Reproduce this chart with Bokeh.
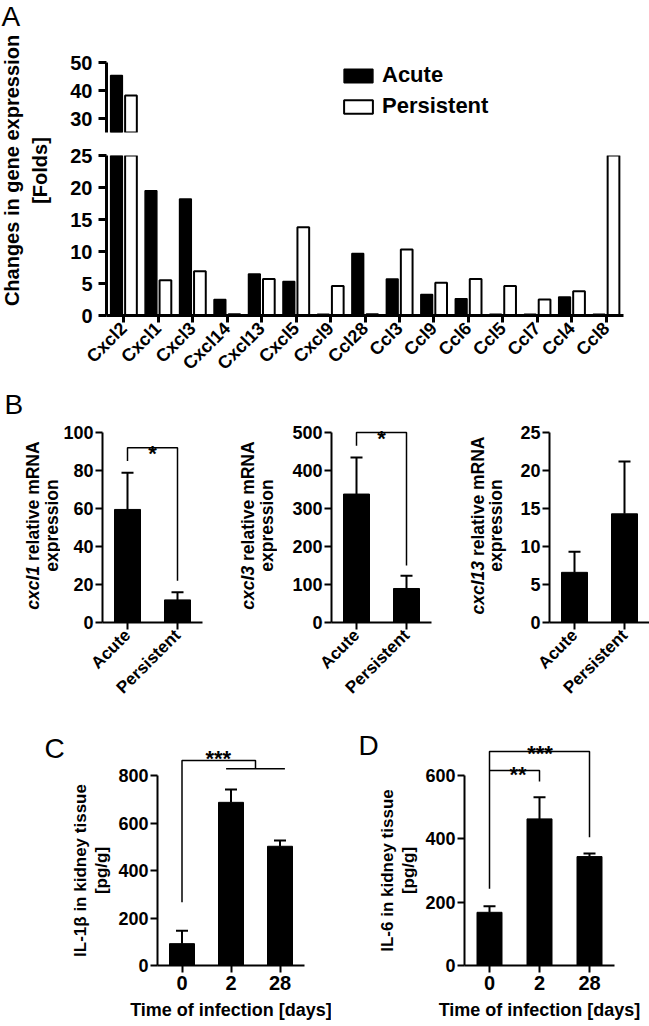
import math
from bokeh.plotting import figure
from bokeh.models import (FactorRange, Range1d, FixedTicker, Label, Whisker, TeeHead,
                          ColumnDataSource, Legend, LegendItem)
from bokeh.layouts import row, column
from bokeh.transform import dodge
from bokeh.embed import file_html
from bokeh.resources import INLINE

FONT = "Liberation Sans"

# ---------------- data ----------------
genes = ["Cxcl2", "Cxcl1", "Cxcl3", "Cxcl14", "Cxcl13", "Cxcl5", "Cxcl9", "Ccl28",
         "Ccl3", "Ccl9", "Ccl6", "Ccl5", "Ccl7", "Ccl4", "Ccl8"]
acute_folds = [45.4, 19.5, 18.2, 2.5, 6.5, 5.3, 0.2, 9.7, 5.7, 3.3, 2.6, 0.2, 0.2, 2.9, 0.2]
persistent_folds = [38.2, 5.5, 6.9, 0.2, 5.7, 13.8, 4.6, 0.2, 10.3, 5.1, 5.7, 4.6, 2.5, 3.8, 25.0]
a_lower_ticks = [0, 5, 10, 15, 20, 25]
a_upper_ticks = [30, 40, 50]
a_break = 25

groups_b = ["Acute", "Persistent"]
cxcl1_mean = [59.5, 11.9]
cxcl1_sem = [19.3, 4.0]
cxcl3_mean = [338.0, 89.5]
cxcl3_sem = [96.0, 33.5]
cxcl13_mean = [6.6, 14.3]
cxcl13_sem = [2.7, 6.9]

days = ["0", "2", "28"]
il1b_mean = [92.0, 687.0, 502.0]
il1b_sem = [54.0, 54.0, 24.0]
il6_mean = [168.0, 463.0, 344.0]
il6_sem = [19.0, 68.0, 10.0]

# significance brackets (data units; x as category positions)
b1_bracket_x = ["Acute", "Acute", "Persistent", "Persistent"]
b1_bracket_y = [85, 92, 92, 22]
b2_bracket_x = ["Acute", "Acute", "Persistent", "Persistent"]
b2_bracket_y = [465, 500, 500, 150]
c_bracket1_x = [0.5, 0.5, 2.0, 2.0]
c_bracket1_y = [266, 863, 863, 828]
c_bracket2_x = [1.4, 2.6]
c_bracket2_y = [828, 828]
d_bracket1_x = [0.5, 0.5, 2.5, 2.5]
d_bracket1_y = [242, 676, 676, 405]
d_bracket2_x = [0.5, 1.5, 1.5]
d_bracket2_y = [616, 616, 581]

# Arial/Liberation Sans Bold advance widths (per 1000 em)
W = {' ': 278, 'a': 556, 'c': 556, 'd': 611, 'e': 556, 'g': 611, 'i': 278, 'k': 556, 'l': 278,
     'm': 889, 'n': 611, 'o': 611, 'p': 611, 'r': 389, 's': 556, 't': 333, 'u': 611, 'v': 556,
     'x': 556, 'y': 556, 'A': 722, 'N': 722, 'R': 722, '1': 556, '3': 556}


def tw(s, fs):
    return sum(W.get(ch, 556) for ch in s) / 1000.0 * fs


def base_fig(xr, yr, fw, fh, bl, br, bt, bb, **kw):
    p = figure(x_range=xr, y_range=yr, frame_width=fw, frame_height=fh,
               min_border_left=bl, min_border_right=br, min_border_top=bt, min_border_bottom=bb,
               toolbar_location=None, output_backend="svg", **kw)
    p.outline_line_color = None
    p.background_fill_color = "white"
    p.border_fill_color = "white"
    for g in p.grid:
        g.visible = False
    return p


def text_fig(w, h):
    return base_fig(Range1d(0, w), Range1d(0, h), w, h, 0, 0, 0, 0,
                    x_axis_location=None, y_axis_location=None)


def style_axis(ax, lw, fs, tick_out=7, standoff=2):
    ax.axis_line_width = lw
    ax.axis_line_color = "black"
    ax.major_tick_line_width = lw
    ax.major_tick_line_color = "black"
    ax.major_tick_in = 0
    ax.major_tick_out = tick_out
    ax.minor_tick_line_color = None
    ax.major_label_text_font = FONT
    ax.major_label_text_font_style = "bold"
    ax.major_label_text_font_size = fs
    ax.major_label_text_color = "black"
    ax.major_label_standoff = standoff


def lbl(p, x, y, text, fs, style="bold", angle=0.0, align="center", baseline="middle"):
    p.add_layout(Label(x=x, y=y, text=text, angle=angle, text_align=align,
                       text_baseline=baseline, text_font=FONT, text_font_style=style,
                       text_font_size=f"{fs}px", text_color="black"))


def rot_line(p, x, yc, parts, fs):
    total = sum(tw(t, fs) for t, _ in parts)
    y = yc - total / 2.0
    for t, s in parts:
        if t.strip():
            lbl(p, x, y, t, fs, style=s, angle=math.pi / 2, align="left")
        y += tw(t, fs)


def panel_letter(p, x, y, text):
    lbl(p, x, y, text, 28, style="normal", align="left", baseline="middle")


# ---------------- Panel A ----------------
xr_a = FactorRange(*genes)
src_a = ColumnDataSource(dict(gene=genes, acute=acute_folds, persistent=persistent_folds))
up_ac = [(g, v) for g, v in zip(genes, acute_folds) if v > a_break]
up_pe = [(g, v) for g, v in zip(genes, persistent_folds) if v > a_break]
src_up_ac = ColumnDataSource(dict(gene=[g for g, _ in up_ac], v=[v for _, v in up_ac]))
src_up_pe = ColumnDataSource(dict(gene=[g for g, _ in up_pe], v=[v for _, v in up_pe]))

A_H = 383
lab_a = text_fig(60, A_H)
panel_letter(lab_a, 1, A_H - 16, "A")
lbl(lab_a, 11, A_H - 170, "Changes in gene expression", 20, angle=math.pi / 2)
lbl(lab_a, 39, A_H - 170, "[Folds]", 20, angle=math.pi / 2)

up = base_fig(xr_a, Range1d(a_break, 50), 517, 70, 46, 24, 62, 11, x_axis_location=None)
lo = base_fig(xr_a, Range1d(0, a_break), 517, 160, 46, 24, 12, 68)

ra = up.vbar(x=dodge("gene", -0.21, range=xr_a), top="v", width=0.34, source=src_up_ac,
             fill_color="black", line_color="black", line_width=1.5)
rp = up.vbar(x=dodge("gene", 0.21, range=xr_a), top="v", width=0.34, source=src_up_pe,
             fill_color="white", line_color="black", line_width=2)
lo.vbar(x=dodge("gene", -0.21, range=xr_a), top="acute", width=0.34, source=src_a,
        fill_color="black", line_color="black", line_width=1.5)
lo.vbar(x=dodge("gene", 0.21, range=xr_a), top="persistent", width=0.34, source=src_a,
        fill_color="white", line_color="black", line_width=2)

style_axis(up.yaxis[0], 3, "20px", 8, 6)
up.yaxis[0].ticker = FixedTicker(ticks=a_upper_ticks)
up.yaxis[0].bounds = (a_break, 50)
style_axis(lo.yaxis[0], 3, "20px", 8, 6)
lo.yaxis[0].ticker = FixedTicker(ticks=a_lower_ticks)
lo.yaxis[0].bounds = (0, a_break)
style_axis(lo.xaxis[0], 3, "18px", 7, 3)
lo.xaxis[0].major_label_orientation = math.pi / 4

legend = Legend(items=[LegendItem(label="Acute", renderers=[ra]),
                       LegendItem(label="Persistent", renderers=[rp])],
                location=(234, 13), orientation="vertical", glyph_width=36, glyph_height=17,
                label_height=22, label_standoff=6, spacing=5, padding=0, margin=0,
                label_text_font=FONT, label_text_font_style="bold", label_text_font_size="22px",
                label_text_color="black", border_line_color=None, background_fill_alpha=0)
up.add_layout(legend)


# ---------------- bar panels ----------------
def bar_panel(cats, means, sems, top, step, fw, bl, br, bt, bb, extra, bar_px,
              ytick_fs, xtick_fs, orient=None):
    u = 190.0 / top
    p = base_fig(FactorRange(*cats), Range1d(0, top + extra / u), fw, 190 + extra, bl, br, bt, bb)
    c = fw / len(cats)
    src = ColumnDataSource(dict(x=cats, top=means,
                                upper=[m + s for m, s in zip(means, sems)]))
    p.vbar(x="x", top="top", width=bar_px / c, source=src,
           fill_color="black", line_color="black")
    p.add_layout(Whisker(source=src, base="x", lower="top", upper="upper", dimension="height",
                         line_color="black", line_width=2,
                         upper_head=TeeHead(size=12, line_width=2, line_color="black"),
                         lower_head=None))
    style_axis(p.yaxis[0], 2, ytick_fs, 7, 2)
    p.yaxis[0].ticker = FixedTicker(ticks=list(range(0, top + 1, step)))
    p.yaxis[0].bounds = (0, top)
    style_axis(p.xaxis[0], 2, xtick_fs, 7, 3)
    if orient is not None:
        p.xaxis[0].major_label_orientation = orient
    return p


B_H = 322
b1 = bar_panel(groups_b, cxcl1_mean, cxcl1_sem, 100, 20, 100, 40, 15, 29, 83, 20, 26,
               "18px", "17px", math.pi / 4)
b2 = bar_panel(groups_b, cxcl3_mean, cxcl3_sem, 500, 100, 100, 54, 10, 29, 83, 20, 26,
               "18px", "17px", math.pi / 4)
b3 = bar_panel(groups_b, cxcl13_mean, cxcl13_sem, 25, 5, 100, 42, 0, 29, 83, 20, 26,
               "18px", "17px", math.pi / 4)

lb1, lb2, lb3 = text_fig(60, B_H), text_fig(60, B_H), text_fig(66, B_H)
panel_letter(lb1, 4, B_H - 21, "B")
for p, x1, x2, gene in ((lb1, 32, 51, "cxcl1"), (lb2, 30, 49, "cxcl3"), (lb3, 36, 54, "cxcl13")):
    rot_line(p, x1, B_H - 142, [(gene, "bold italic"), (" ", "bold"), ("relative mRNA", "bold")], 17.5)
    lbl(p, x2, B_H - 142, "expression", 17.5, angle=math.pi / 2)

b1.line(b1_bracket_x, b1_bracket_y, line_color="black", line_width=1.5)
b2.line(b2_bracket_x, b2_bracket_y, line_color="black", line_width=1.5)
lbl(b1, 1.0, 88.7, "*", 22, align="center", baseline="alphabetic")
lbl(b2, 1.0, 485, "*", 22, align="center", baseline="alphabetic")

# ---------------- Panels C and D ----------------
C_H = 320
cp = bar_panel(days, il1b_mean, il1b_sem, 800, 200, 147, 41, 27, 23, 62, 45, 25, "18px", "20px")
dp = bar_panel(days, il6_mean, il6_sem, 600, 200, 150, 43, 34, 23, 62, 45, 25, "18px", "20px")
for p in (cp, dp):
    ax = p.xaxis[0]
    ax.axis_label = "Time of infection [days]"
    ax.axis_label_text_font = FONT
    ax.axis_label_text_font_style = "bold"
    ax.axis_label_text_font_size = "18px"
    ax.axis_label_text_color = "black"
    ax.axis_label_standoff = 7

lc, ld = text_fig(115, C_H), text_fig(90, C_H)
panel_letter(lc, 44, C_H - 41, "C")
lbl(lc, 80, C_H - 163, "IL-1\u03b2 in kidney tissue", 17, angle=math.pi / 2)
lbl(lc, 101, C_H - 163, "[pg/g]", 17, angle=math.pi / 2)
panel_letter(ld, 27, C_H - 38, "D")
lbl(ld, 56, C_H - 163, "IL-6 in kidney tissue", 17, angle=math.pi / 2)
lbl(ld, 77, C_H - 163, "[pg/g]", 17, angle=math.pi / 2)

cp.line(c_bracket1_x, c_bracket1_y, line_color="black", line_width=1.5)
cp.line(c_bracket2_x, c_bracket2_y, line_color="black", line_width=1.5)
dp.line(d_bracket1_x, d_bracket1_y, line_color="black", line_width=1.5)
dp.line(d_bracket2_x, d_bracket2_y, line_color="black", line_width=1.5)
lbl(cp, 1.24, 870, "***", 22, align="center", baseline="alphabetic")
lbl(dp, 1.07, 604, "**", 22, align="center", baseline="alphabetic")
lbl(dp, 1.51, 668, "***", 22, align="center", baseline="alphabetic")

# wrap every plot in its own column so that sibling plots do not align their frames
layout = column(row(lab_a, column(up, lo)),
                row(column(lb1), column(b1), column(lb2), column(b2), column(lb3), column(b3)),
                row(column(lc), column(cp), column(ld), column(dp)))

open("out.html", "w").write(file_html(layout, INLINE))
